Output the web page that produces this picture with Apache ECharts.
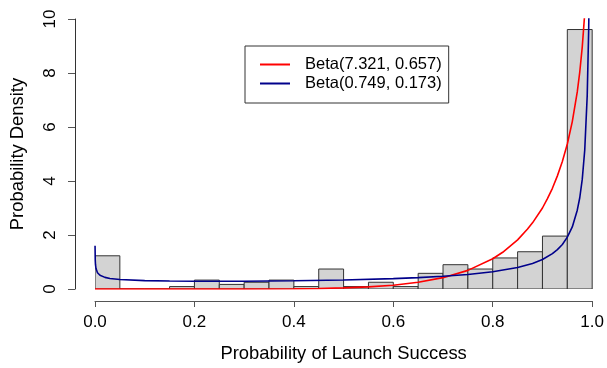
<!DOCTYPE html>
<html>
<head>
<meta charset="utf-8">
<script src="https://cdn.jsdelivr.net/npm/echarts@6/dist/echarts.min.js"></script>
<style>
html,body{margin:0;padding:0;background:#fff;}
#c{width:607px;height:368px;}
</style>
</head>
<body>
<div id="c"></div>
<script>
// Histogram bins (start of each 0.05-wide bin) and densities
var binStarts = [0.00,0.05,0.10,0.15,0.20,0.25,0.30,0.35,0.40,0.45,0.50,0.55,0.60,0.65,0.70,0.75,0.80,0.85,0.90,0.95];
var binWidth = 0.05;
var densities = [1.23,0,0,0.09,0.33,0.17,0.25,0.33,0.09,0.74,0.09,0.25,0.09,0.58,0.90,0.74,1.15,1.38,1.96,9.61];

// Red curve: Beta(7.321, 0.657)
var redX = [0,0.1,0.2,0.3,0.4,0.45,0.5,0.55,0.6,0.65,0.7,0.75,0.8,0.82,0.85,0.87,0.88,0.9,0.91,0.92,0.93,0.94,0.95,0.96,0.97,0.975,0.98,0.985,0.99];
var redY = [0,0,0,0.001,0.01,0.02,0.04,0.08,0.14,0.25,0.42,0.69,1.12,1.36,1.82,2.22,2.45,3.0,3.35,3.73,4.19,4.72,5.37,6.2,7.3,8.03,8.96,10.2,12.1];

// Blue curve: Beta(0.749, 0.173)
var blueX = [0.0001,0.0005,0.001,0.002,0.005,0.01,0.02,0.03,0.05,0.1,0.15,0.2,0.3,0.4,0.5,0.6,0.65,0.7,0.75,0.8,0.85,0.88,0.9,0.92,0.93,0.94,0.95,0.96,0.97,0.975,0.98,0.985,0.99,0.993,0.995];
var blueY = [1.6,1.07,0.9,0.76,0.6,0.51,0.43,0.39,0.35,0.31,0.295,0.287,0.289,0.305,0.336,0.386,0.422,0.47,0.538,0.637,0.795,0.948,1.095,1.31,1.46,1.65,1.92,2.30,2.92,3.38,4.06,5.14,7.16,9.65,12.7];

var xTicks = [0.0,0.2,0.4,0.6,0.8,1.0];
var yTicks = [0,2,4,6,8,10];

var legendNames = ['Beta(7.321, 0.657)','Beta(0.749, 0.173)'];

function pairs(xs, ys){ return xs.map(function(x,i){ return [x, ys[i]]; }); }

var histData = binStarts.map(function(s,i){ return [s, s+binWidth, densities[i]]; });

var chart = echarts.init(document.getElementById('c'), null, {renderer:'canvas'});
var FONT = 'Liberation Sans, Arial, sans-serif';
chart.setOption({
  animation:false,
  backgroundColor:'#fff',
  textStyle:{fontFamily:FONT},
  grid:{left:95, right:13, top:19, bottom:77, containLabel:false},
  xAxis:{
    type:'value', min:0, max:1, interval:0.2, offset:12,
    axisLine:{show:true, onZero:false, lineStyle:{color:'#555', width:1}},
    axisTick:{show:true, length:6, lineStyle:{color:'#555'}},
    splitLine:{show:false},
    axisLabel:{fontFamily:FONT, fontSize:17, color:'#000', margin:13,
      formatter:function(v){ return v.toFixed(1); }},
    name:'Probability of Launch Success', nameLocation:'middle', nameGap:44,
    nameTextStyle:{fontFamily:FONT, fontSize:18.4, color:'#000'}
  },
  yAxis:{
    type:'value', min:0, max:10, interval:2, offset:20,
    axisLine:{show:true, onZero:false, lineStyle:{color:'#333', width:1}},
    axisTick:{show:true, length:7, lineStyle:{color:'#555'}},
    splitLine:{show:false},
    axisLabel:{fontFamily:FONT, fontSize:17, color:'#000', rotate:90, margin:16},
    name:'Probability Density', nameLocation:'middle', nameGap:48, nameRotate:90,
    nameTextStyle:{fontFamily:FONT, fontSize:18.4, color:'#000'}
  },
  legend:{
    show:true, left:245, top:46, orient:'vertical',
    data:legendNames, icon:'rect', itemWidth:30, itemHeight:2, itemGap:0,
    borderColor:'#333', borderWidth:1, padding:[9,7,10,15], backgroundColor:'#fff',
    textStyle:{fontFamily:FONT, fontSize:16.5, color:'#000', lineHeight:19, padding:[0,0,0,10]}
  },
  series:[
    {
      type:'custom', name:'hist', silent:true, clip:true,
      data:histData,
      encode:{x:[0,1], y:2},
      renderItem:function(params, api){
        var p0 = api.coord([api.value(0), api.value(2)]);
        var p1 = api.coord([api.value(1), 0]);
        return {type:'rect', shape:{x:p0[0], y:p0[1], width:p1[0]-p0[0], height:p1[1]-p0[1]},
          style:{fill:'#D3D3D3', stroke:'#333', lineWidth:1}};
      },
      z:1
    },
    {
      type:'line', name:legendNames[0], data:pairs(redX, redY), symbol:'none', smooth:false,
      lineStyle:{color:'#FF0000', width:1.6}, itemStyle:{color:'#FF0000'}, z:3, clip:true
    },
    {
      type:'line', name:legendNames[1], data:pairs(blueX, blueY), symbol:'none', smooth:false,
      lineStyle:{color:'#00008B', width:1.6}, itemStyle:{color:'#00008B'}, z:4, clip:true
    }
  ]
});
</script>
</body>
</html>
